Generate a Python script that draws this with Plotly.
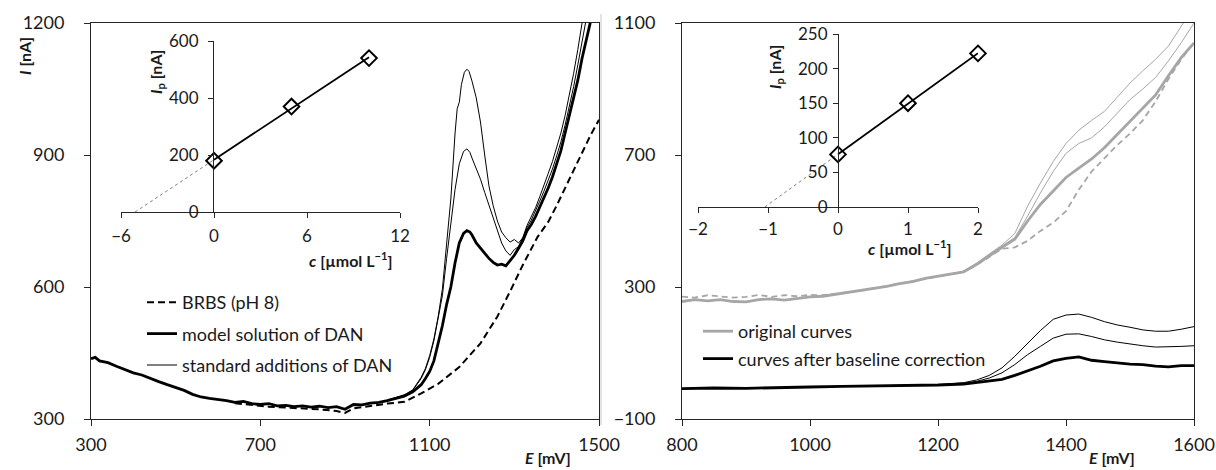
import numpy as np
import plotly.graph_objects as go

# ---------------- LEFT PANEL DATA (E [mV], I [nA]) ----------------
E_model_L = [300, 310, 320, 340, 360, 380, 400, 420, 440, 460, 480, 500, 520, 540, 560, 580, 600,
             620, 640, 660, 680, 700, 720, 740, 760, 780, 800, 820, 840, 860, 880, 900, 920, 940,
             960, 980, 1000, 1020, 1040, 1060, 1080, 1090, 1100, 1110, 1120, 1130, 1140, 1150, 1160,
             1170, 1180, 1188, 1195, 1200, 1210, 1220, 1230, 1240, 1250, 1260, 1270, 1280, 1290,
             1300, 1310, 1320, 1330, 1340, 1350, 1360, 1370, 1380, 1390, 1400, 1410, 1420, 1430,
             1440, 1450, 1460, 1470, 1480, 1490]
I_model_L = [437, 440, 432, 428, 420, 412, 405, 400, 392, 385, 378, 372, 365, 356, 350, 347, 345,
             342, 338, 340, 335, 333, 335, 330, 331, 328, 330, 327, 329, 326, 328, 322, 333, 332,
             336, 338, 342, 347, 352, 362, 378, 392, 408, 432, 470, 512, 560, 600, 655,
             700, 722, 728, 725, 718, 700, 688, 678, 665, 656, 650, 652, 648, 660,
             672, 688, 705, 728, 742, 760, 782, 800, 825, 850, 880, 910, 950, 990,
             1030, 1070, 1120, 1160, 1200, 1245]

E_add1_L = [1000, 1020, 1040, 1060, 1070, 1080, 1090, 1100, 1110, 1120, 1130, 1140, 1150, 1160,
            1170, 1180, 1188, 1195, 1200, 1210, 1220, 1230, 1240, 1250, 1260, 1270, 1280, 1290,
            1300, 1310, 1320, 1330, 1340, 1350, 1360, 1370, 1380, 1390, 1400, 1410, 1420, 1430,
            1440, 1450, 1460, 1470]
I_add1_L = [342, 348, 354, 365, 378, 392, 412, 440, 478, 525, 580, 665, 750, 822,
            880, 908, 914, 906, 893, 870, 845, 815, 785, 755, 725, 700, 682, 672,
            685, 692, 712, 735, 752, 772, 795, 818, 842, 868, 898, 930, 968, 1010,
            1055, 1105, 1155, 1210]

E_add2_L = [1000, 1020, 1040, 1060, 1070, 1080, 1090, 1100, 1110, 1120, 1130, 1140, 1150, 1160,
            1165, 1170, 1175, 1182, 1188, 1193, 1200, 1210, 1220, 1230, 1240, 1250, 1260, 1270,
            1280, 1290, 1300, 1310, 1320, 1330, 1340, 1350, 1360, 1370, 1380, 1390, 1400, 1410,
            1420, 1430, 1440, 1450, 1460, 1470]
I_add2_L = [343, 349, 355, 366, 380, 395, 415, 444, 482, 532, 595, 690, 800, 950,
            1005, 1020, 1060, 1088, 1095, 1090, 1068, 1030, 975, 900, 830, 785, 750, 725,
            712, 702, 708, 700, 712, 740, 760, 780, 805, 830, 858, 885, 915, 950,
            990, 1035, 1085, 1140, 1200, 1260]

E_brbs_L = [640, 680, 720, 760, 800, 840, 880, 900, 920, 960, 1000, 1040, 1080, 1120, 1170, 1220,
            1260, 1290, 1320, 1355, 1380, 1400, 1420, 1440, 1460, 1480, 1500]
I_brbs_L = [336, 332, 328, 326, 324, 322, 318, 314, 324, 330, 335, 339, 358, 380, 418, 472,
            533, 590, 650, 714, 748, 785, 825, 868, 905, 945, 980]

# ---------------- RIGHT PANEL DATA ----------------
E_orig_model = [800, 820, 840, 860, 880, 900, 920, 940, 960, 980, 1000, 1020, 1040, 1060, 1080, 1100,
                1120, 1140, 1160, 1180, 1200, 1220, 1240, 1260, 1280, 1300, 1320, 1340, 1360, 1380,
                1400, 1420, 1440, 1460, 1480, 1500, 1520, 1540, 1560, 1580, 1600]
I_orig_model = [256, 262, 258, 262, 256, 255, 262, 264, 260, 266, 270, 272, 278, 282, 288, 296,
                302, 310, 316, 326, 332, 338, 346, 368, 395, 420, 445, 500, 550, 592,
                632, 660, 688, 722, 762, 800, 840, 882, 940, 995, 1040]
E_orig_add1 = [1240, 1260, 1280, 1300, 1320, 1340, 1360, 1380, 1400, 1420, 1440, 1460, 1480, 1500,
               1520, 1540, 1560, 1580, 1600]
I_orig_add1 = [347, 370, 398, 424, 450, 515, 585, 650, 705, 735, 752, 785, 828, 868,
               900, 935, 985, 1040, 1100]
E_orig_add2 = [1240, 1260, 1280, 1300, 1320, 1340, 1360, 1380, 1400, 1420, 1440, 1460, 1480, 1500,
               1520, 1540, 1560, 1580, 1600]
I_orig_add2 = [348, 372, 400, 427, 462, 545, 615, 680, 735, 775, 805, 832, 875, 918,
               955, 990, 1030, 1090, 1150]
E_orig_brbs = [800, 820, 840, 860, 880, 900, 920, 940, 960, 980, 1000, 1020, 1040, 1060, 1080, 1100,
               1120, 1140, 1160, 1180, 1200, 1220, 1240, 1260, 1280, 1300, 1320, 1340, 1360, 1380,
               1400, 1420, 1440, 1460, 1480, 1500, 1520, 1540, 1560, 1580, 1600]
I_orig_brbs = [271, 268, 275, 272, 268, 270, 276, 270, 275, 272, 276, 275, 279, 283, 289, 296,
               303, 311, 317, 326, 333, 338, 346, 366, 392, 416, 420, 440, 470, 495,
               530, 595, 650, 690, 730, 765, 805, 862, 930, 990, 1040]

E_corr = [800, 850, 900, 950, 1000, 1050, 1100, 1150, 1200, 1240, 1260, 1280, 1300, 1320, 1340,
          1360, 1380, 1400, 1420, 1440, 1460, 1480, 1500, 1520, 1540, 1560, 1580, 1600]
I_corr_model = [-8, -6, -7, -4, -3, -1, 0, 1, 3, 6, 10, 14, 20, 32, 45,
                60, 76, 84, 88, 78, 74, 70, 66, 65, 60, 58, 62, 62]
I_corr_add1 = [-8, -6, -7, -4, -3, -1, 0, 1, 3, 8, 14, 24, 40, 65, 95,
               120, 145, 157, 158, 150, 140, 133, 127, 122, 118, 118, 120, 122]
I_corr_add2 = [-8, -6, -7, -4, -3, -1, 0, 1, 4, 10, 18, 32, 55, 90, 130,
               168, 202, 215, 218, 208, 195, 185, 178, 170, 166, 166, 172, 180]

# ---------------- INSETS ----------------
c_L = [0, 5, 10]
Ip_L = [180, 370, 540]
c_R = [0, 1, 2]
Ip_R = [76, 150, 222]

W, H = 1216, 470
FONT = "Lato"
AX = "#262626"
GRAY = "#a6a6a6"
TXT = "#1a1a1a"

def px_x(p):
    return p / W

def px_y(p):
    return 1 - p / H

fig = go.Figure()

# left main
fig.add_trace(go.Scatter(x=E_brbs_L, y=I_brbs_L, mode="lines", name="BRBS (pH 8)",
                         line=dict(color="black", width=2, dash="7px,4px"),
                         xaxis="x", yaxis="y", legend="legend", legendgroup="a", legendrank=1))
fig.add_trace(go.Scatter(x=E_add1_L, y=I_add1_L, mode="lines", name="standard additions of DAN",
                         line=dict(color="black", width=1), xaxis="x", yaxis="y",
                         legend="legend", legendgroup="c", legendrank=3))
fig.add_trace(go.Scatter(x=E_add2_L, y=I_add2_L, mode="lines", showlegend=False,
                         line=dict(color="black", width=1), xaxis="x", yaxis="y"))
fig.add_trace(go.Scatter(x=E_model_L, y=I_model_L, mode="lines", name="model solution of DAN",
                         line=dict(color="black", width=2.8), xaxis="x", yaxis="y",
                         legend="legend", legendgroup="b", legendrank=2))

# right main
fig.add_trace(go.Scatter(x=E_orig_brbs, y=I_orig_brbs, mode="lines", showlegend=False,
                         line=dict(color=GRAY, width=1.8, dash="6px,4px"), xaxis="x2", yaxis="y2"))
fig.add_trace(go.Scatter(x=E_orig_add1, y=I_orig_add1, mode="lines", showlegend=False,
                         line=dict(color=GRAY, width=1), xaxis="x2", yaxis="y2"))
fig.add_trace(go.Scatter(x=E_orig_add2, y=I_orig_add2, mode="lines", showlegend=False,
                         line=dict(color=GRAY, width=1), xaxis="x2", yaxis="y2"))
fig.add_trace(go.Scatter(x=E_orig_model, y=I_orig_model, mode="lines", name="original curves",
                         line=dict(color=GRAY, width=2.8), xaxis="x2", yaxis="y2",
                         legend="legend2", legendgroup="o", legendrank=1))
fig.add_trace(go.Scatter(x=E_corr, y=I_corr_add1, mode="lines", showlegend=False,
                         line=dict(color="black", width=1), xaxis="x2", yaxis="y2"))
fig.add_trace(go.Scatter(x=E_corr, y=I_corr_add2, mode="lines", showlegend=False,
                         line=dict(color="black", width=1), xaxis="x2", yaxis="y2"))
fig.add_trace(go.Scatter(x=E_corr, y=I_corr_model, mode="lines",
                         name="curves after baseline correction",
                         line=dict(color="black", width=2.8), xaxis="x2", yaxis="y2",
                         legend="legend2", legendgroup="p", legendrank=2))

# insets
for cx, ip, xa, ya in [(c_L, Ip_L, "x3", "y3"), (c_R, Ip_R, "x4", "y4")]:
    slope, icpt = np.polyfit(cx, ip, 1)
    x0 = -icpt / slope
    fig.add_trace(go.Scatter(x=[x0, 0], y=[0, icpt], mode="lines", showlegend=False,
                             line=dict(color="#7f7f7f", width=1, dash="dot"), xaxis=xa, yaxis=ya))
    fig.add_trace(go.Scatter(x=[min(cx), max(cx)], y=[icpt + slope * min(cx), icpt + slope * max(cx)],
                             mode="lines", showlegend=False,
                             line=dict(color="black", width=1.8), xaxis=xa, yaxis=ya))
    fig.add_trace(go.Scatter(x=cx, y=ip, mode="markers", showlegend=False,
                             marker=dict(symbol="diamond-open", size=12, color="black",
                                         line=dict(width=2, color="black")),
                             cliponaxis=False, xaxis=xa, yaxis=ya))

tickfont = dict(family=FONT, size=18, color=TXT)
itickfont = dict(family=FONT, size=17, color=TXT)
main_common = dict(showgrid=False, zeroline=False, showline=True, linecolor=AX, linewidth=1,
                   mirror=True, ticks="outside", ticklen=6, tickcolor=AX, tickfont=tickfont,
                   automargin=False)
inset_common = dict(showgrid=False, zeroline=False, showline=True, linecolor=AX, linewidth=1,
                    mirror=False, ticks="outside", ticklen=5, tickcolor=AX, tickfont=itickfont,
                    automargin=False)

Lx0, Lx1 = 91, 599
Rx0, Rx1 = 682, 1194
Ytop, Ybot = 23, 419

fig.update_layout(
    width=W, height=H, margin=dict(l=0, r=0, t=0, b=0, autoexpand=False),
    paper_bgcolor="white", plot_bgcolor="rgba(0,0,0,0)",
    font=dict(family=FONT, color=TXT),
    xaxis=dict(domain=[px_x(Lx0), px_x(Lx1)], range=[300, 1500], tickvals=[300, 700, 1100, 1500],
               anchor="y", ticklabelstandoff=3, **main_common),
    yaxis=dict(domain=[px_y(Ybot), px_y(Ytop)], range=[300, 1200], tickvals=[300, 600, 900, 1200],
               anchor="x", ticklabelstandoff=16, **main_common),
    xaxis2=dict(domain=[px_x(Rx0), px_x(Rx1)], range=[800, 1600],
                tickvals=[800, 1000, 1200, 1400, 1600], anchor="y2", ticklabelstandoff=3, **main_common),
    yaxis2=dict(domain=[px_y(Ybot), px_y(Ytop)], range=[-100, 1100],
                tickvals=[-100, 300, 700, 1100], anchor="x2", ticklabelstandoff=16, **main_common),
    xaxis3=dict(domain=[px_x(121), px_x(400)], range=[-6, 12], tickvals=[-6, 0, 6, 12],
                anchor="y3", ticklabelstandoff=4, **inset_common),
    yaxis3=dict(domain=[px_y(212), px_y(41)], range=[0, 600], tickvals=[0, 200, 400, 600],
                anchor="free", position=px_x(213), ticklabelstandoff=6, **inset_common),
    xaxis4=dict(domain=[px_x(698), px_x(978)], range=[-2, 2], tickvals=[-2, -1, 0, 1, 2],
                anchor="y4", ticklabelstandoff=2, **inset_common),
    yaxis4=dict(domain=[px_y(207), px_y(34)], range=[0, 250], tickvals=[0, 50, 100, 150, 200, 250],
                anchor="free", position=px_x(838), ticklabelstandoff=2, **inset_common),
    legend=dict(x=px_x(142), y=px_y(284), xanchor="left", yanchor="top", bgcolor="rgba(0,0,0,0)",
                font=dict(family=FONT, size=18, color=TXT), traceorder="grouped",
                tracegroupgap=5, itemwidth=30),
    legend2=dict(x=px_x(698), y=px_y(313), xanchor="left", yanchor="top", bgcolor="rgba(0,0,0,0)",
                 font=dict(family=FONT, size=18, color=TXT), traceorder="grouped",
                 tracegroupgap=1, itemwidth=30),
)

ann = []
bold = dict(family=FONT, size=16, color=TXT)
ann.append(dict(text="<b><i>I</i> [nA]</b>", x=px_x(25), y=px_y(56), xref="paper", yref="paper",
                xanchor="center", yanchor="middle", textangle=-90, showarrow=False, font=bold))
ann.append(dict(text="<b><i>E</i> [mV]</b>", x=px_x(548), y=px_y(457), xref="paper", yref="paper",
                xanchor="center", yanchor="middle", showarrow=False, font=bold))
ann.append(dict(text="<b><i>E</i> [mV]</b>", x=px_x(1112), y=px_y(457), xref="paper", yref="paper",
                xanchor="center", yanchor="middle", showarrow=False, font=bold))
ifont = dict(family=FONT, size=16, color=TXT)
ann.append(dict(text="<b><i>I</i><sub>p</sub> [nA]</b>", x=px_x(156), y=px_y(72), xref="paper",
                yref="paper", xanchor="center", yanchor="middle", textangle=-90, showarrow=False,
                font=ifont))
ann.append(dict(text="<b><i>I</i><sub>p</sub> [nA]</b>", x=px_x(775), y=px_y(67), xref="paper",
                yref="paper", xanchor="center", yanchor="middle", textangle=-90, showarrow=False,
                font=ifont))
ann.append(dict(text="<b><i>c</i> [µmol L<sup>−1</sup>]</b>", x=px_x(351), y=px_y(259), xref="paper",
                yref="paper", xanchor="center", yanchor="middle", showarrow=False, font=ifont))
ann.append(dict(text="<b><i>c</i> [µmol L<sup>−1</sup>]</b>", x=px_x(910), y=px_y(247), xref="paper",
                yref="paper", xanchor="center", yanchor="middle", showarrow=False, font=ifont))
fig.update_layout(annotations=ann)

fig.add_shape(type="line", xref="paper", yref="paper", x0=px_x(601), x1=px_x(601),
              y0=px_y(425), y1=px_y(14), line=dict(color="#c8c8c8", width=1))

fig.write_html("out.html", config={"displayModeBar": False},
               post_script="document.body.style.margin='0px';document.body.style.overflow='hidden';")
